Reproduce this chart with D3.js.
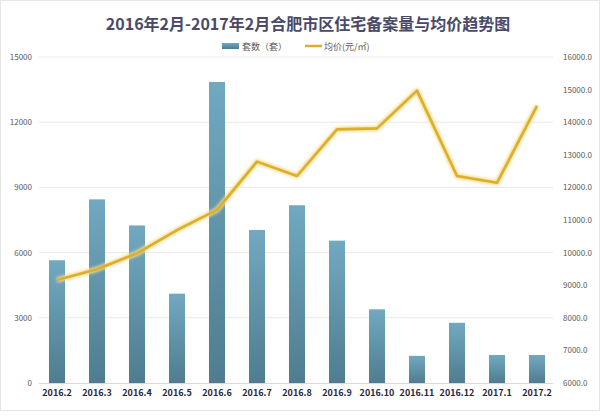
<!DOCTYPE html>
<html><head><meta charset="utf-8">
<script src="https://cdn.jsdelivr.net/npm/d3@7"></script>
<style>body{margin:0;background:#fff}svg{display:block}</style>
</head><body>
<script>
const categories = ["2016.2","2016.3","2016.4","2016.5","2016.6","2016.7","2016.8","2016.9","2016.10","2016.11","2016.12","2017.1","2017.2"];
const units = [5650,8450,7250,4110,13850,7040,8180,6550,3390,1250,2770,1290,1290];
const prices = [9160,9490,9980,10690,11310,12790,12350,13780,13810,14970,12350,12140,14500];
const leftTicks = [0,3000,6000,9000,12000,15000];
const rightTicks = [6000,7000,8000,9000,10000,11000,12000,13000,14000,15000,16000];
const title = "2016年2月-2017年2月合肥市区住宅备案量与均价趋势图";
const legendLabels = ["套数（套）","均价(元/㎡)"];

const W=600,H=416;
const svg=d3.select("body").append("svg").attr("width",W).attr("height",H);
svg.append("rect").attr("x",0.5).attr("y",0.5).attr("width",W-1).attr("height",H-6).attr("fill","#fff").attr("stroke","#e6e6e6");

const defs=svg.append("defs");
const g1=defs.append("linearGradient").attr("id","bg").attr("x1",0).attr("y1",0).attr("x2",0).attr("y2",1);
g1.append("stop").attr("offset","0%").attr("stop-color","#72a9c0");
g1.append("stop").attr("offset","100%").attr("stop-color","#4f7c90");
const f=defs.append("filter").attr("id","glow").attr("x","-10%").attr("y","-10%").attr("width","120%").attr("height","120%");
f.append("feGaussianBlur").attr("stdDeviation",1.5);

const x=d3.scaleBand().domain(categories).range([37,557]);
const yL=d3.scaleLinear().domain([0,15000]).range([383,57]);
const yR=d3.scaleLinear().domain([6000,16000]).range([383,57]);

// grid
svg.append("g").selectAll("line").data(leftTicks.slice(1)).join("line")
  .attr("x1",39).attr("x2",553).attr("y1",d=>yL(d)).attr("y2",d=>yL(d))
  .attr("stroke","#e8e8e8").attr("stroke-width",1);

// left axis
const ax=d3.axisLeft(yL).tickValues(leftTicks).tickSize(0).tickPadding(0).tickFormat(d3.format("d"));
const gl=svg.append("g").attr("transform","translate(32,0)").call(ax);
gl.select(".domain").remove();
gl.selectAll("text").attr("fill","#595959").attr("font-size",8).attr("font-family","Noto Sans CJK SC, sans-serif");

const axR=d3.axisRight(yR).tickValues(rightTicks).tickSize(0).tickPadding(0).tickFormat(d3.format(".1f"));
const gr=svg.append("g").attr("transform","translate(563,0)").call(axR);
gr.select(".domain").remove();
gr.selectAll("text").attr("fill","#595959").attr("font-size",8).attr("font-family","Noto Sans CJK SC, sans-serif");

// bars
const bw=16;
svg.append("g").selectAll("rect").data(units).join("rect")
  .attr("x",(d,i)=>x(categories[i])+x.bandwidth()/2-bw/2)
  .attr("width",bw)
  .attr("y",d=>yL(d)).attr("height",d=>yL(0)-yL(d))
  .attr("fill","url(#bg)");

// baseline
svg.append("line").attr("x1",39).attr("x2",553).attr("y1",383.5).attr("y2",383.5).attr("stroke","#d9d9d9");

// x axis labels
const axB=d3.axisBottom(x).tickSize(0).tickPadding(0);
const gb=svg.append("g").attr("transform","translate(0,390)").call(axB);
gb.select(".domain").remove();
gb.selectAll("text").attr("fill","#262640").attr("font-size",9).attr("font-weight","bold").attr("font-family","Noto Sans CJK SC, sans-serif");

// line
const line=d3.line().x((d,i)=>x(categories[i])+x.bandwidth()/2).y(d=>yR(d));
svg.append("path").datum(prices).attr("d",line).attr("fill","none")
  .attr("stroke","#f3dc88").attr("stroke-width",5).attr("filter","url(#glow)").attr("stroke-linejoin","round");
svg.append("path").datum(prices).attr("d",line).attr("fill","none")
  .attr("stroke","#dcae2c").attr("stroke-width",2.6).attr("stroke-linejoin","round");

// title
svg.append("text").attr("x",308).attr("y",30).attr("text-anchor","middle")
  .attr("font-size",16).attr("font-weight","bold").attr("fill","#4a4a68")
  .attr("font-family","Noto Sans CJK SC, sans-serif").text(title);

// legend
const lg=svg.append("g").attr("font-family","Noto Sans CJK SC, sans-serif").attr("font-size",9).attr("fill","#595959");
lg.append("rect").attr("x",222).attr("y",43).attr("width",17).attr("height",6).attr("fill","url(#bg)");
lg.append("text").attr("x",242).attr("y",49.5).text(legendLabels[0]);
lg.append("line").attr("x1",305).attr("x2",322).attr("y1",46).attr("y2",46).attr("stroke","#dcae2c").attr("stroke-width",2.5);
lg.append("text").attr("x",324).attr("y",49.5).text(legendLabels[1]);
</script>
</body></html>
